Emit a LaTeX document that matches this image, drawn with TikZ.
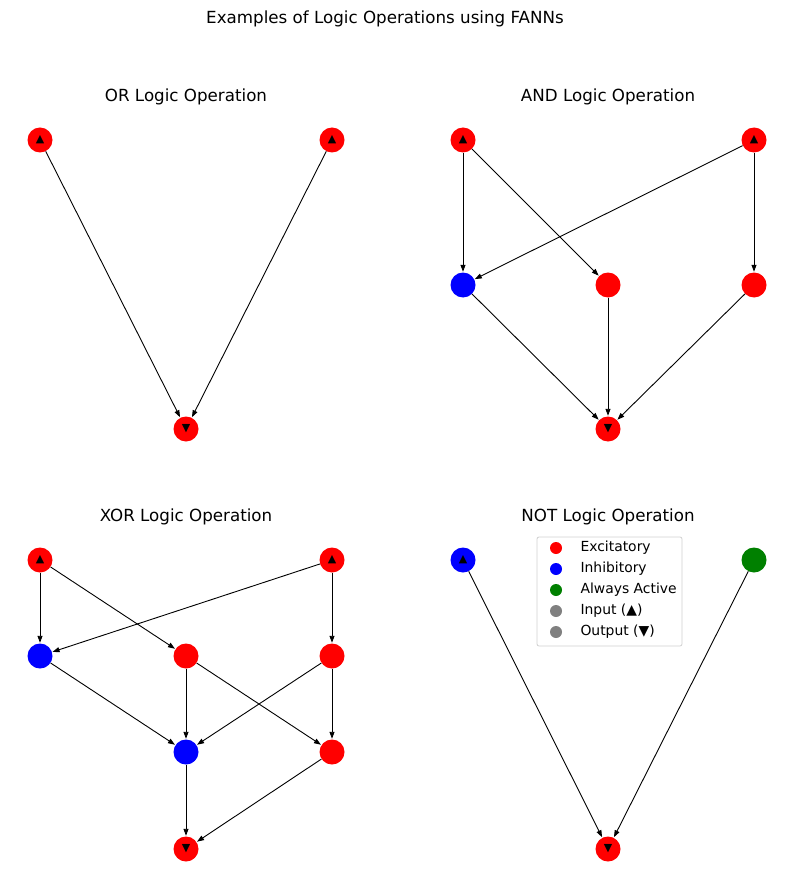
\documentclass[tikz,border=0pt]{standalone}
\usepackage{fontspec}
\setmainfont{DejaVu Sans}
\usetikzlibrary{arrows.meta}
\definecolor{mred}{HTML}{FF0000}
\definecolor{mblue}{HTML}{0000FF}
\definecolor{mgreen}{HTML}{008000}
\definecolor{mgray}{HTML}{808080}
\tikzset{
  neuron/.style={circle, minimum size=25pt, inner sep=0pt, draw=none, font=\fontsize{11}{11}\selectfont},
  exc/.style={neuron, fill=mred},
  inh/.style={neuron, fill=mblue},
  act/.style={neuron, fill=mgreen},
  edge/.style={-{Triangle[length=7pt,width=5pt]}, line width=0.9pt, shorten >=0.5pt},
  ttl/.style={font=\fontsize{16.7}{20}\selectfont, anchor=center},
  lgtxt/.style={font=\fontsize{13.9}{16}\selectfont, anchor=west},
  lgdot/.style={circle, minimum size=12pt, inner sep=0pt},
}
\begin{document}
\begin{tikzpicture}[x=1pt,y=-1pt]
\useasboundingbox (0,0) rectangle (794,890);
\newcommand{\up}{\raisebox{0.5pt}{▲}}
\newcommand{\dn}{▼}
% titles
\node[ttl] (t0) at (385,19) {Examples of Logic Operations using FANNs};
\node[ttl] (t1) at (186,97) {OR Logic Operation};
\node[ttl] (t2) at (608,97) {AND Logic Operation};
\node[ttl] (t3) at (186,517) {XOR Logic Operation};
\node[ttl] (t4) at (608,517) {NOT Logic Operation};
% OR
\node[exc] (or1) at (40,140) {\up};
\node[exc] (or2) at (332,140) {\up};
\node[exc] (oro) at (186,429) {\dn};
\draw[edge] (or1) -- (oro);
\draw[edge] (or2) -- (oro);
% AND
\node[exc] (an1) at (463,140) {\up};
\node[exc] (an2) at (754,140) {\up};
\node[inh] (anb) at (463,285) {};
\node[exc] (anm) at (608,285) {};
\node[exc] (anr) at (754,285) {};
\node[exc] (ano) at (608,429) {\dn};
\draw[edge] (an1) -- (anb);
\draw[edge] (an1) -- (anm);
\draw[edge] (an2) -- (anb);
\draw[edge] (an2) -- (anr);
\draw[edge] (anb) -- (ano);
\draw[edge] (anm) -- (ano);
\draw[edge] (anr) -- (ano);
% XOR
\node[exc] (x1) at (40,560) {\up};
\node[exc] (x2) at (332,560) {\up};
\node[inh] (xb) at (40,656) {};
\node[exc] (xm) at (186,656) {};
\node[exc] (xr) at (332,656) {};
\node[inh] (xb2) at (186,752) {};
\node[exc] (xr2) at (332,752) {};
\node[exc] (xo) at (186,849) {\dn};
\draw[edge] (x1) -- (xb);
\draw[edge] (x1) -- (xm);
\draw[edge] (x2) -- (xb);
\draw[edge] (x2) -- (xr);
\draw[edge] (xb) -- (xb2);
\draw[edge] (xm) -- (xb2);
\draw[edge] (xm) -- (xr2);
\draw[edge] (xr) -- (xb2);
\draw[edge] (xr) -- (xr2);
\draw[edge] (xb2) -- (xo);
\draw[edge] (xr2) -- (xo);
% NOT
\node[inh] (n1) at (463,560) {\up};
\node[act] (n2) at (754,560) {};
\node[exc] (no) at (608,849) {\dn};
\draw[edge] (n1) -- (no);
\draw[edge] (n2) -- (no);
% legend
\draw[draw=black!18, fill=white, rounded corners=2pt, line width=0.8pt] (537,537) rectangle (682,646);
\node[lgdot, fill=mred] (l1) at (556,548) {};
\node[lgdot, fill=mblue] (l2) at (556,569) {};
\node[lgdot, fill=mgreen] (l3) at (556,590) {};
\node[lgdot, fill=mgray] (l4) at (556,611) {};
\node[lgdot, fill=mgray] (l5) at (556,632) {};
\node[lgtxt] (lt1) at (577,548) {Excitatory};
\node[lgtxt] (lt2) at (577,569) {Inhibitory};
\node[lgtxt] (lt3) at (577,590) {Always Active};
\node[lgtxt] (lt4) at (577,611) {Input (▲)};
\node[lgtxt] (lt5) at (577,632) {Output (▼)};
\end{tikzpicture}
\end{document}
